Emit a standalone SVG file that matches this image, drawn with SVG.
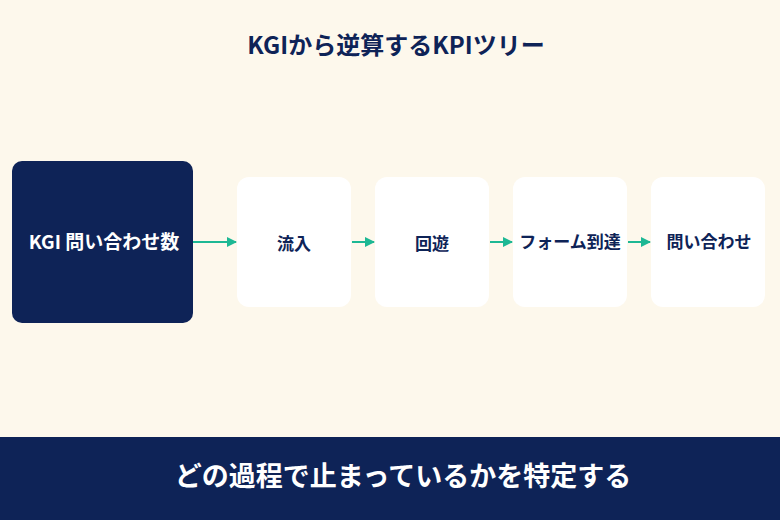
<svg xmlns="http://www.w3.org/2000/svg" width="780" height="520" viewBox="0 0 780 520">
<style>
text{font-family:"Noto Sans CJK JP","Noto Sans",sans-serif;font-weight:700;text-anchor:middle}
.w{fill:#FFFFFF}
.lbl{fill:#0E2357;font-size:17px}
.c{stroke:#1DB894;stroke-width:2;fill:none}
</style>
<defs><marker id="ah" markerWidth="10" markerHeight="10" refX="9" refY="5" orient="auto" markerUnits="userSpaceOnUse"><path d="M0,0 L10,5 L0,10 Z" fill="#1DB894"/></marker></defs>
<rect width="780" height="520" fill="#FDF8EC"/>
<text x="396" y="54" font-size="24" fill="#0E2357">KGIから逆算するKPIツリー</text>
<g id="kgi"><rect x="12" y="161" width="181" height="162" rx="10" fill="#0E2357"/><text x="104" y="249" font-size="19" fill="#fff">KGI 問い合わせ数</text></g>
<g id="n1"><rect class="w" x="237" y="177" width="114" height="130" rx="12"/><text class="lbl" x="294" y="250" font-size="22">流入</text></g>
<g id="n2"><rect class="w" x="375" y="177" width="114" height="130" rx="12"/><text class="lbl" x="432" y="250" font-size="22">回遊</text></g>
<g id="n3"><rect class="w" x="513" y="177" width="114" height="130" rx="12"/><text class="lbl" x="570" y="248" font-size="13.5">フォーム到達</text></g>
<g id="n4"><rect class="w" x="651" y="177" width="114" height="130" rx="12"/><text class="lbl" x="709" y="248">問い合わせ</text></g>
<g id="connectors">
<line class="c" x1="193" y1="242" x2="236" y2="242" marker-end="url(#ah)"/>
<line class="c" x1="352" y1="242" x2="374" y2="242" marker-end="url(#ah)"/>
<line class="c" x1="490" y1="242" x2="512" y2="242" marker-end="url(#ah)"/>
<line class="c" x1="628" y1="242" x2="650" y2="242" marker-end="url(#ah)"/>
</g>
<rect x="0" y="437" width="780" height="83" fill="#0E2357"/>
<text x="403" y="486" font-size="27" fill="#fff">どの過程で止まっているかを特定する</text>
</svg>
